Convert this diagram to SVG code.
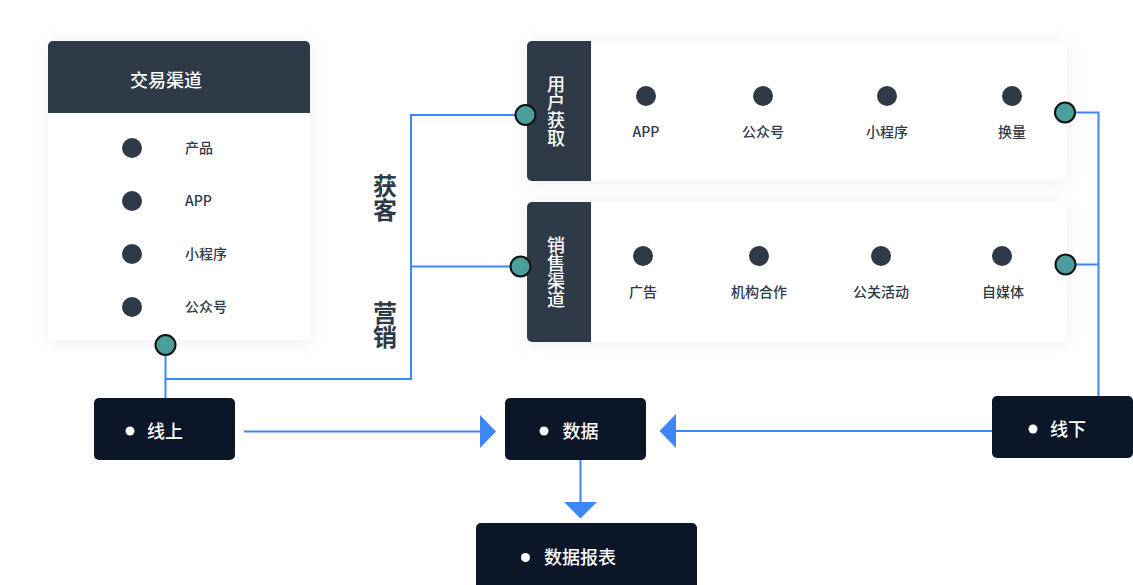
<svg xmlns="http://www.w3.org/2000/svg" width="1133" height="585" viewBox="0 0 1133 585">
  <defs>
    <filter id="shadow" x="-20%" y="-30%" width="140%" height="160%">
      <feDropShadow dx="0" dy="2" stdDeviation="9" flood-color="#000" flood-opacity="0.07"/>
    </filter>
  </defs>
  <style>
    text { font-family: "Noto Sans CJK SC", "Noto Sans", "Liberation Sans", sans-serif; }
    .card { fill: #ffffff; }
    .dark { fill: #2e3a47; }
    .dot { fill: #2e3a47; }
    .lbl { fill: #2e3a47; font-size: 14px; font-weight: 500; }
    .lblc { fill: #2e3a47; font-size: 14px; font-weight: 500; text-anchor: middle; }
    .head { fill: #ffffff; font-size: 18px; font-weight: 500; }
    .vert { fill: #ffffff; font-size: 18px; font-weight: 500; writing-mode: vertical-rl; text-orientation: upright; }
    .side { fill: #2e3a47; font-size: 24px; font-weight: 700; writing-mode: vertical-rl; text-orientation: upright; }
    .box { fill: #0b1629; }
    .btxt { fill: #ffffff; font-size: 18px; font-weight: 500; }
    .bdot { fill: #ffffff; }
    .wire { fill: none; stroke: #3d86f8; stroke-width: 2; }
    .head-tri { fill: #3d86f8; }
    .port { fill: #4a9e9b; stroke: #111111; stroke-width: 2; }
  </style>

  <rect width="1133" height="585" fill="#ffffff"/>

  <g id="trade-channel">
    <rect class="card" x="48" y="41" width="262" height="299" rx="5" filter="url(#shadow)"/>
    <path class="dark" d="M53 41 H305 A5 5 0 0 1 310 46 V113 H48 V46 A5 5 0 0 1 53 41 Z"/>
    <text class="head" x="130" y="87">交易渠道</text>
    <circle class="dot" cx="132" cy="148" r="10"/>
    <text class="lbl" x="185" y="153">产品</text>
    <circle class="dot" cx="132" cy="201" r="10"/>
    <text class="lbl" x="185" y="206">APP</text>
    <circle class="dot" cx="132" cy="254" r="10"/>
    <text class="lbl" x="185" y="259">小程序</text>
    <circle class="dot" cx="132" cy="307" r="10"/>
    <text class="lbl" x="185" y="312">公众号</text>
  </g>

  <g id="user-acquisition">
    <rect class="card" x="527" y="41" width="540" height="140" rx="5" filter="url(#shadow)"/>
    <path class="dark" d="M532 41 H591 V181 H532 A5 5 0 0 1 527 176 V46 A5 5 0 0 1 532 41 Z"/>
    <text class="vert" x="556" y="75">用户获取</text>
    <circle class="dot" cx="646" cy="96" r="10"/>
    <text class="lblc" x="646" y="137">APP</text>
    <circle class="dot" cx="763" cy="96" r="10"/>
    <text class="lblc" x="763" y="137">公众号</text>
    <circle class="dot" cx="887" cy="96" r="10"/>
    <text class="lblc" x="887" y="137">小程序</text>
    <circle class="dot" cx="1012" cy="96" r="10"/>
    <text class="lblc" x="1012" y="137">换量</text>
  </g>

  <g id="sales-channel">
    <rect class="card" x="527" y="202" width="540" height="140" rx="5" filter="url(#shadow)"/>
    <path class="dark" d="M532 202 H591 V342 H532 A5 5 0 0 1 527 337 V207 A5 5 0 0 1 532 202 Z"/>
    <text class="vert" x="556" y="236">销售渠道</text>
    <circle class="dot" cx="643" cy="256" r="10"/>
    <text class="lblc" x="643" y="297">广告</text>
    <circle class="dot" cx="759" cy="256" r="10"/>
    <text class="lblc" x="759" y="297">机构合作</text>
    <circle class="dot" cx="881" cy="256" r="10"/>
    <text class="lblc" x="881" y="297">公关活动</text>
    <circle class="dot" cx="1002" cy="256" r="10"/>
    <text class="lblc" x="1003" y="297">自媒体</text>
  </g>

  <g id="side-labels">
    <text class="side" x="385" y="174">获客</text>
    <text class="side" x="385" y="301">营销</text>
  </g>

  <g id="connectors">
    <path class="wire" d="M165.5 345 V398"/>
    <path class="wire" d="M165.5 379 H411 V115 H525"/>
    <path class="wire" d="M411 266.5 H520"/>
    <path class="wire" d="M1065 112.5 H1098.5 V396"/>
    <path class="wire" d="M1065.5 264.5 H1098.5"/>
    <path class="wire" d="M244 431.5 H482"/>
    <polygon class="head-tri" points="480,415 496,431.5 480,448"/>
    <path class="wire" d="M992 431 H674"/>
    <polygon class="head-tri" points="676,414 659.5,431 676,448"/>
    <path class="wire" d="M580.5 460 V504"/>
    <polygon class="head-tri" points="564,502 597,502 580.5,518.5"/>
    <circle class="port" cx="165.5" cy="345" r="10"/>
    <circle class="port" cx="525.5" cy="115" r="10"/>
    <circle class="port" cx="520.5" cy="266.5" r="10"/>
    <circle class="port" cx="1065" cy="112.5" r="10"/>
    <circle class="port" cx="1065.5" cy="264.5" r="10"/>
  </g>

  <g id="online">
    <rect class="box" x="94" y="398" width="141" height="62" rx="5"/>
    <circle class="bdot" cx="130" cy="431" r="4.5"/>
    <text class="btxt" x="147" y="437.5">线上</text>
  </g>

  <g id="data">
    <rect class="box" x="505" y="398" width="141" height="62" rx="5"/>
    <circle class="bdot" cx="544" cy="431" r="4.5"/>
    <text class="btxt" x="562.5" y="437.5">数据</text>
  </g>

  <g id="offline">
    <rect class="box" x="992" y="396" width="141" height="62" rx="5"/>
    <circle class="bdot" cx="1033" cy="429" r="4.5"/>
    <text class="btxt" x="1050" y="435.5">线下</text>
  </g>

  <g id="data-report">
    <rect class="box" x="476" y="523" width="221" height="66" rx="5"/>
    <circle class="bdot" cx="525.5" cy="557.5" r="4.5"/>
    <text class="btxt" x="544" y="564">数据报表</text>
  </g>
</svg>
